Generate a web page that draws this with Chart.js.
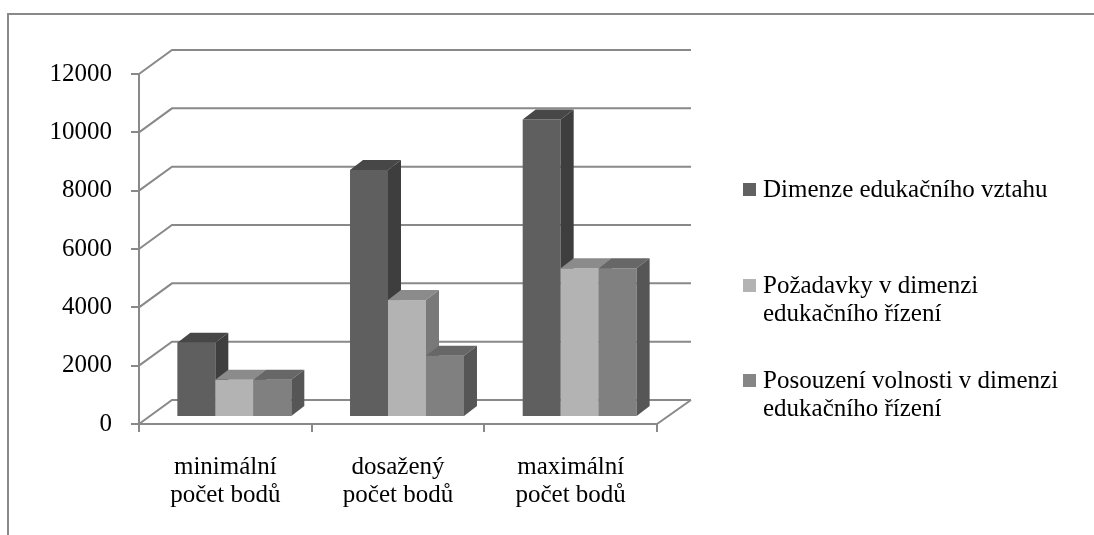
<!DOCTYPE html>
<html>
<head>
<meta charset="utf-8">
<script src="https://cdn.jsdelivr.net/npm/chart.js@4/dist/chart.umd.min.js"></script>
<style>
  html, body { margin: 0; padding: 0; background: #fff; }
</style>
</head>
<body>
<canvas id="chart" width="1094" height="535"></canvas>
<script>
const categories = [
    ["minimální", "počet bodů"],
    ["dosažený", "počet bodů"],
    ["maximální", "počet bodů"]
];
const relationValues = [2550, 8470, 10200];
const demandValues = [1275, 4010, 5100];
const freedomValues = [1275, 2100, 5100];

const seriesLabels = [
    ["Dimenze edukačního vztahu"],
    ["Požadavky v dimenzi", "edukačního řízení"],
    ["Posouzení volnosti v dimenzi", "edukačního řízení"]
];
const yTicks = [0, 2000, 4000, 6000, 8000, 10000, 12000];

const FONT = "'Liberation Serif', 'Times New Roman', serif";
const LINE = '#898989';

// shades per series: front, top, side
const shades = [
    {front: '#5f5f5f', top: '#474747', side: '#3e3e3e', key: '#616161'},
    {front: '#b3b3b3', top: '#8b8b8b', side: '#797979', key: '#b3b3b3'},
    {front: '#808080', top: '#676767', side: '#565656', key: '#868686'}
];

// depth of the plot box, and where the columns sit inside it
const WALL = {dx: 33, dy: 24};
const BAR_SHIFT = {dx: 9, dy: 7};
const BAR_DEPTH = {dx: 13, dy: 10};

const framePlugin = {
    id: 'frame',
    beforeDraw(chart) {
        const ctx = chart.ctx;
        ctx.save();
        ctx.fillStyle = '#fff';
        ctx.fillRect(0, 0, chart.width, chart.height);
        ctx.strokeStyle = LINE;
        ctx.lineWidth = 2;
        ctx.beginPath();
        ctx.moveTo(8, chart.height);
        ctx.lineTo(8, 14);
        ctx.lineTo(chart.width, 14);
        ctx.stroke();
        ctx.restore();
    }
};

const wallPlugin = {
    id: 'wall',
    beforeDatasetsDraw(chart) {
        const {ctx, chartArea, scales} = chart;
        const y = scales.y;
        ctx.save();
        ctx.strokeStyle = LINE;
        ctx.lineWidth = 2;
        y.ticks.forEach(t => {
            const py = y.getPixelForValue(t.value);
            ctx.beginPath();
            ctx.moveTo(chartArea.left, py);
            ctx.lineTo(chartArea.left + WALL.dx, py - WALL.dy);
            ctx.lineTo(chartArea.right + WALL.dx + 1, py - WALL.dy);
            ctx.stroke();
        });
        // right edge of the floor
        ctx.beginPath();
        ctx.moveTo(chartArea.right, chartArea.bottom);
        ctx.lineTo(chartArea.right + WALL.dx + 1, chartArea.bottom - WALL.dy);
        ctx.stroke();
        ctx.restore();
    },
    beforeDatasetDraw() {
        return false;
    },
    afterDatasetsDraw(chart) {
        const ctx = chart.ctx;
        const metas = chart.data.datasets.map((d, i) => chart.getDatasetMeta(i));
        ctx.save();
        for (let c = 0; c < categories.length; c++) {
            metas.forEach((meta, s) => {
                const bar = meta.data[c];
                if (!bar) return;
                const {x, y, base, width} = bar.getProps(['x', 'y', 'base', 'width'], true);
                const l = x - width / 2 + BAR_SHIFT.dx;
                const r = x + width / 2 + BAR_SHIFT.dx;
                const t = y - BAR_SHIFT.dy;
                const b = base - BAR_SHIFT.dy;
                const col = shades[s];

                ctx.fillStyle = col.front;
                ctx.fillRect(l, t, r - l, b - t);

                ctx.fillStyle = col.top;
                ctx.beginPath();
                ctx.moveTo(l, t);
                ctx.lineTo(r, t);
                ctx.lineTo(r + BAR_DEPTH.dx, t - BAR_DEPTH.dy);
                ctx.lineTo(l + BAR_DEPTH.dx, t - BAR_DEPTH.dy);
                ctx.closePath();
                ctx.fill();

                ctx.fillStyle = col.side;
                ctx.beginPath();
                ctx.moveTo(r, t);
                ctx.lineTo(r + BAR_DEPTH.dx, t - BAR_DEPTH.dy);
                ctx.lineTo(r + BAR_DEPTH.dx, b - BAR_DEPTH.dy);
                ctx.lineTo(r, b);
                ctx.closePath();
                ctx.fill();
            });
        }
        ctx.restore();
    }
};

const legendPlugin = {
    id: 'sideLegend',
    afterDraw(chart) {
        const ctx = chart.ctx;
        const tops = [197, 293, 388];
        ctx.save();
        ctx.font = '25px ' + FONT;
        ctx.textBaseline = 'alphabetic';
        seriesLabels.forEach((lines, i) => {
            const base = tops[i];
            ctx.fillStyle = shades[i].key;
            ctx.fillRect(743, base - 14, 13, 13);
            ctx.fillStyle = '#000';
            lines.forEach((txt, k) => ctx.fillText(txt, 763, base + k * 28));
        });
        ctx.restore();
    }
};

new Chart(document.getElementById('chart').getContext('2d'), {
    type: 'bar',
    data: {
        labels: categories,
        datasets: [
            {label: seriesLabels[0].join(' '), data: relationValues, backgroundColor: shades[0].front},
            {label: seriesLabels[1].join(' '), data: demandValues, backgroundColor: shades[1].front},
            {label: seriesLabels[2].join(' '), data: freedomValues, backgroundColor: shades[2].front}
        ]
    },
    options: {
        responsive: false,
        animation: false,
        events: [],
        layout: {
            padding: {top: 74, right: 437, left: 0, bottom: 0}
        },
        datasets: {
            bar: {categoryPercentage: 0.66, barPercentage: 1.0}
        },
        plugins: {
            legend: {display: false},
            tooltip: {enabled: false}
        },
        scales: {
            y: {
                min: 0,
                max: 12000,
                afterFit(scale) { scale.width = 139; },
                afterBuildTicks(scale) { scale.ticks = yTicks.map(v => ({value: v})); },
                ticks: {
                    font: {family: FONT, size: 25},
                    color: '#000',
                    padding: 19,
                    callback: v => String(v)
                },
                grid: {
                    drawOnChartArea: false,
                    tickLength: 8,
                    color: LINE,
                    lineWidth: 2
                },
                border: {display: true, color: LINE, width: 2}
            },
            x: {
                afterFit(scale) { scale.height = 111; },
                ticks: {
                    font: {family: FONT, size: 25, lineHeight: 1.12},
                    color: '#000',
                    padding: 21,
                    maxRotation: 0
                },
                grid: {
                    drawOnChartArea: false,
                    offset: true,
                    tickLength: 8,
                    color: LINE,
                    lineWidth: 2
                },
                border: {display: true, color: LINE, width: 2}
            }
        }
    },
    plugins: [framePlugin, wallPlugin, legendPlugin]
});
</script>
</body>
</html>
